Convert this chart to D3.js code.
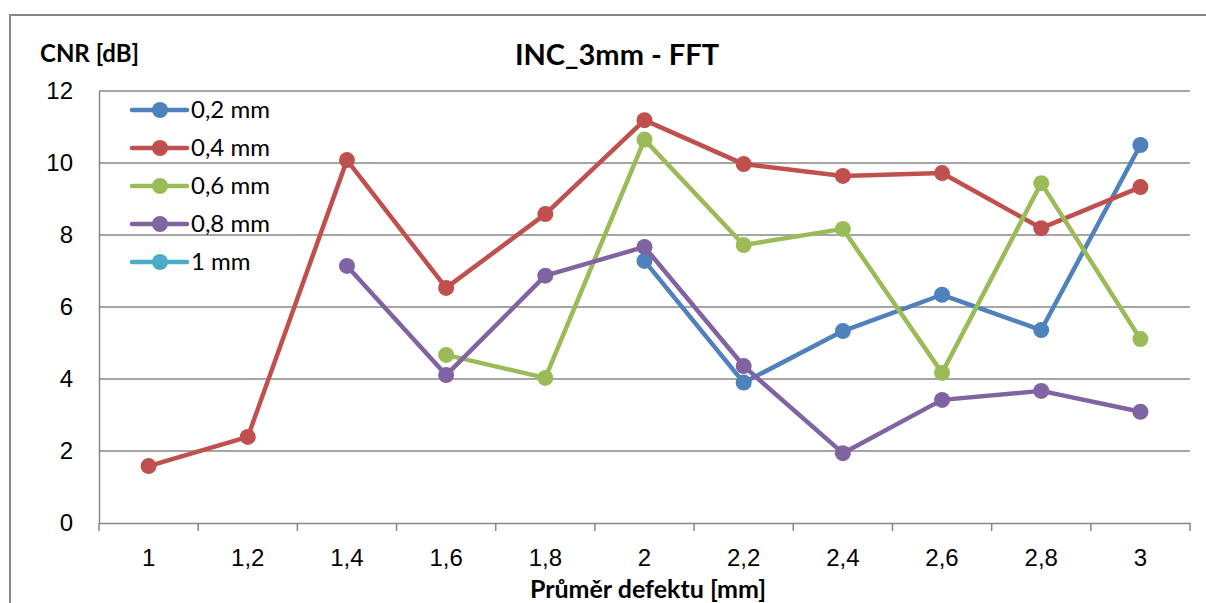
<!DOCTYPE html>
<html>
<head>
<meta charset="utf-8">
<script src="https://cdn.jsdelivr.net/npm/d3@7"></script>
<style>
  body { margin: 0; background: #fff; }
  svg { font-family: Lato, "Open Sans", sans-serif; }
</style>
</head>
<body>
<div id="chart"></div>
<script>
const categories = ['1', '1,2', '1,4', '1,6', '1,8', '2', '2,2', '2,4', '2,6', '2,8', '3'];
const yTicks = [0, 2, 4, 6, 8, 10, 12];

const s02 = [null, null, null, null, null, 7.28, 3.9, 5.33, 6.34, 5.36, 10.5];
const s04 = [1.58, 2.39, 10.08, 6.53, 8.58, 11.19, 9.97, 9.64, 9.72, 8.19, 9.33];
const s06 = [null, null, null, 4.67, 4.03, 10.65, 7.72, 8.17, 4.17, 9.44, 5.11];
const s08 = [null, null, 7.14, 4.11, 6.87, 7.67, 4.36, 1.94, 3.42, 3.67, 3.09];
const s10 = [null, null, null, null, null, null, null, null, null, null, null];

const seriesNames = ['0,2 mm', '0,4 mm', '0,6 mm', '0,8 mm', '1 mm'];
const seriesValues = [s02, s04, s06, s08, s10];
const seriesColors = ['#4F81BD', '#C0504D', '#9BBB59', '#8064A2', '#4BACC6'];

const W = 1206, H = 603;
const margin = { top: 91, right: 16, bottom: 80, left: 99 };
const grey = '#878787';

const svg = d3.select('#chart').append('svg')
  .attr('width', W)
  .attr('height', H);

// outer chart border (runs off the right and bottom edge)
svg.append('path')
  .attr('d', `M10,${H + 5}V15H${W + 5}`)
  .attr('fill', 'none')
  .attr('stroke', grey)
  .attr('stroke-width', 2);

const x = d3.scaleBand()
  .domain(categories)
  .range([margin.left, W - margin.right]);

const y = d3.scaleLinear()
  .domain([0, 12])
  .range([H - margin.bottom, margin.top]);

const xc = (i) => x(categories[i]) + x.bandwidth() / 2;

// gridlines
svg.append('g').selectAll('line')
  .data(yTicks.filter((t) => t > 0))
  .enter()
  .append('line')
  .attr('x1', margin.left)
  .attr('x2', W - margin.right)
  .attr('y1', (d) => y(d))
  .attr('y2', (d) => y(d))
  .attr('stroke', grey)
  .attr('stroke-width', 1.5);

// y axis
const yAxis = svg.append('g')
  .attr('transform', `translate(${margin.left},0)`)
  .call(d3.axisLeft(y).tickValues(yTicks).tickSize(0).tickPadding(26));
yAxis.select('.domain').attr('stroke', grey).attr('stroke-width', 1.5);
yAxis.selectAll('text').attr('font-size', 24).attr('fill', '#000');

// x axis
const xAxis = svg.append('g')
  .attr('transform', `translate(0,${y(0)})`)
  .call(d3.axisBottom(x).tickSize(0).tickPadding(26));
xAxis.select('.domain').attr('stroke', grey).attr('stroke-width', 1.5);
xAxis.selectAll('text').attr('font-size', 24).attr('fill', '#000');

// tick marks at category boundaries
const bounds = categories.map((c) => x(c)).concat([x.range()[1]]);
xAxis.append('g').selectAll('line')
  .data(bounds)
  .enter()
  .append('line')
  .attr('x1', (d) => d)
  .attr('x2', (d) => d)
  .attr('y1', 0)
  .attr('y2', 8)
  .attr('stroke', grey)
  .attr('stroke-width', 1.5);

// titles
svg.append('text')
  .attr('x', 617)
  .attr('y', 65)
  .attr('text-anchor', 'middle')
  .attr('font-weight', 'bold')
  .attr('font-size', 29)
  .text('INC_3mm - FFT');

svg.append('text')
  .attr('x', 40)
  .attr('y', 62)
  .attr('font-weight', 'bold')
  .attr('font-size', 24)
  .text('CNR [dB]');

svg.append('text')
  .attr('x', 648)
  .attr('y', 598)
  .attr('text-anchor', 'middle')
  .attr('font-weight', 'bold')
  .attr('font-size', 25)
  .text('Průměr defektu [mm]');

// series
const line = d3.line()
  .defined((d) => d != null)
  .x((d, i) => xc(i))
  .y((d) => y(d));

seriesValues.forEach((vals, k) => {
  const g = svg.append('g');
  g.append('path')
    .attr('d', line(vals))
    .attr('fill', 'none')
    .attr('stroke', seriesColors[k])
    .attr('stroke-width', 4.5)
    .attr('stroke-linejoin', 'round');
  g.selectAll('circle')
    .data(vals.map((v, i) => ({ v, i })).filter((d) => d.v != null))
    .enter()
    .append('circle')
    .attr('cx', (d) => xc(d.i))
    .attr('cy', (d) => y(d.v))
    .attr('r', 8)
    .attr('fill', seriesColors[k]);
});

// legend
const legend = svg.append('g').attr('transform', 'translate(132,110)');
const items = legend.selectAll('g')
  .data(seriesNames)
  .enter()
  .append('g')
  .attr('transform', (d, i) => `translate(0,${i * 38})`);
items.append('line')
  .attr('x1', 0)
  .attr('x2', 55)
  .attr('stroke', (d, i) => seriesColors[i])
  .attr('stroke-width', 4.5)
  .attr('stroke-linecap', 'round');
items.append('circle')
  .attr('cx', 28)
  .attr('r', 8)
  .attr('fill', (d, i) => seriesColors[i]);
items.append('text')
  .attr('x', 59)
  .attr('dy', '0.35em')
  .attr('font-size', 24)
  .text((d) => d);
</script>
</body>
</html>
